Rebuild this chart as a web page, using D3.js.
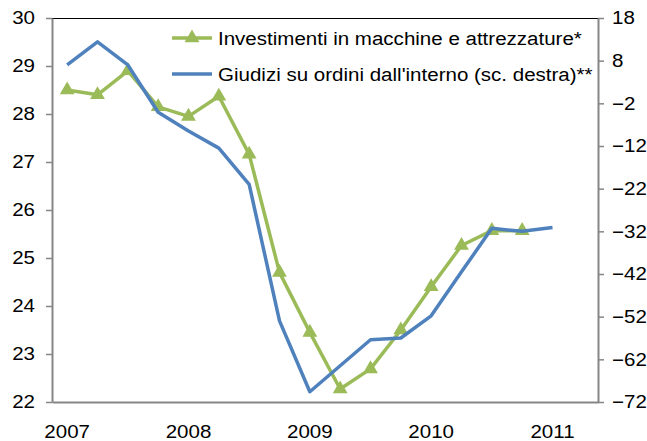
<!DOCTYPE html>
<html>
<head>
<meta charset="utf-8">
<script src="https://cdn.jsdelivr.net/npm/d3@7"></script>
<style>
  body { margin: 0; background: #fff; }
  text { font-family: "Liberation Sans", Arial, sans-serif; }
</style>
</head>
<body>
<script>
// quarters, 2007 T1 .. 2011 T2
var quarters = ["2007T1","2007T2","2007T3","2007T4","2008T1","2008T2","2008T3","2008T4",
  "2009T1","2009T2","2009T3","2009T4","2010T1","2010T2","2010T3","2010T4","2011T1","2011T2"];
var yearTicks = ["2007T1","2008T1","2009T1","2010T1","2011T1"];

// left scale
var investimenti = [28.5, 28.4, 28.9, 28.15, 27.95, 28.37, 27.16, 24.7, 23.45, 22.27,
  22.69, 23.5, 24.4, 25.26, 25.57, 25.57];
// right scale
var giudizi = [7, 12.4, 7, -4.1, -8.5, -12.5, -21, -53, -69.6, -63.5, -57.4, -57, -51.8,
  -41.5, -31.3, -32, -31.1];

var leftTicks = [22, 23, 24, 25, 26, 27, 28, 29, 30];
var rightTicks = [18, 8, -2, -12, -22, -32, -42, -52, -62, -72];

var names = ["Investimenti in macchine e attrezzature*",
  "Giudizi su ordini dall'interno (sc. destra)**"];

var svgWidth = 647, svgHeight = 441;
var margin = {top: 18, right: 49, bottom: 39, left: 52};
var width = svgWidth - margin.left - margin.right;
var height = svgHeight - margin.top - margin.bottom;
var green = "#9bbb59", blue = "#4f81bd", axisGrey = "#868686";
var fontSize = 18, stretch = 1.14;

var svg = d3.select("body").append("svg")
  .attr("width", svgWidth)
  .attr("height", svgHeight);

var chart = svg.append("g")
  .attr("transform", `translate(${margin.left},${margin.top})`);

var x = d3.scaleBand().domain(quarters).range([0, width]);
var yL = d3.scaleLinear().domain([22, 30]).range([height, 0]);
var yR = d3.scaleLinear().domain([-72, 18]).range([height, 0]);
var cx = function(i) { return x(quarters[i]) + x.bandwidth() / 2; };

// the original text is a little wider than Arial
function widen(sel) {
  sel.each(function() {
    var w = this.getComputedTextLength();
    d3.select(this).attr("textLength", w * stretch).attr("lengthAdjust", "spacingAndGlyphs");
  });
}

// top border
chart.append("line")
  .attr("x1", 0).attr("x2", width)
  .attr("y1", 0.5).attr("y2", 0.5)
  .attr("stroke", "#000").attr("stroke-width", 1);

function styleAxis(g) {
  g.selectAll(".domain").attr("stroke", axisGrey).attr("stroke-width", 2);
  g.selectAll(".tick line").attr("stroke", axisGrey).attr("stroke-width", 1.5);
  g.selectAll("text").attr("fill", "#000").style("font-size", fontSize + "px")
    .style("font-family", "'Liberation Sans', Arial, sans-serif");
}

chart.append("g")
  .call(d3.axisLeft(yL).tickValues(leftTicks).tickSize(6).tickPadding(11).tickSizeOuter(0))
  .call(styleAxis)
  .selectAll("text").call(widen);

chart.append("g")
  .attr("transform", `translate(${width},0)`)
  .call(d3.axisRight(yR).tickValues(rightTicks).tickSize(6).tickPadding(8).tickSizeOuter(0))
  .call(styleAxis)
  .selectAll("text").call(widen);

var xAxis = chart.append("g")
  .attr("transform", `translate(0,${height})`)
  .call(d3.axisBottom(x).tickValues(yearTicks).tickSize(0)
    .tickFormat(function(d) { return d.slice(0, 4); }))
  .call(styleAxis);
xAxis.selectAll("text")
  .attr("y", 23)
  .attr("transform", `scale(${stretch},1)`);

var lineL = d3.line()
  .x(function(d, i) { return cx(i); })
  .y(function(d) { return yL(d); });
var lineR = d3.line()
  .x(function(d, i) { return cx(i); })
  .y(function(d) { return yR(d); });

chart.append("path")
  .datum(investimenti)
  .attr("d", lineL)
  .attr("fill", "none")
  .attr("stroke", green)
  .attr("stroke-width", 3.5)
  .attr("stroke-linejoin", "round");

var tri = d3.symbol().type(d3.symbolTriangle).size(95);

chart.selectAll(".marker")
  .data(investimenti)
  .enter()
  .append("path")
  .attr("class", "marker")
  .attr("d", tri)
  .attr("transform", function(d, i) { return `translate(${cx(i)},${yL(d)})`; })
  .attr("fill", green);

chart.append("path")
  .datum(giudizi)
  .attr("d", lineR)
  .attr("fill", "none")
  .attr("stroke", blue)
  .attr("stroke-width", 3.5)
  .attr("stroke-linejoin", "round");

// legend
var legend = svg.append("g");
var legendRows = [
  {name: names[0], color: green, y: 38, marker: true},
  {name: names[1], color: blue, y: 74, marker: false}
];
legendRows.forEach(function(r) {
  legend.append("line")
    .attr("x1", 172).attr("x2", 212)
    .attr("y1", r.y).attr("y2", r.y)
    .attr("stroke", r.color).attr("stroke-width", 3.5);
  if (r.marker) {
    legend.append("path")
      .attr("d", tri)
      .attr("transform", `translate(192,${r.y})`)
      .attr("fill", r.color);
  }
  legend.append("text")
    .attr("x", 218).attr("y", r.y + 6.5)
    .style("font-size", fontSize + "px")
    .text(r.name)
    .call(widen);
});
</script>
</body>
</html>
